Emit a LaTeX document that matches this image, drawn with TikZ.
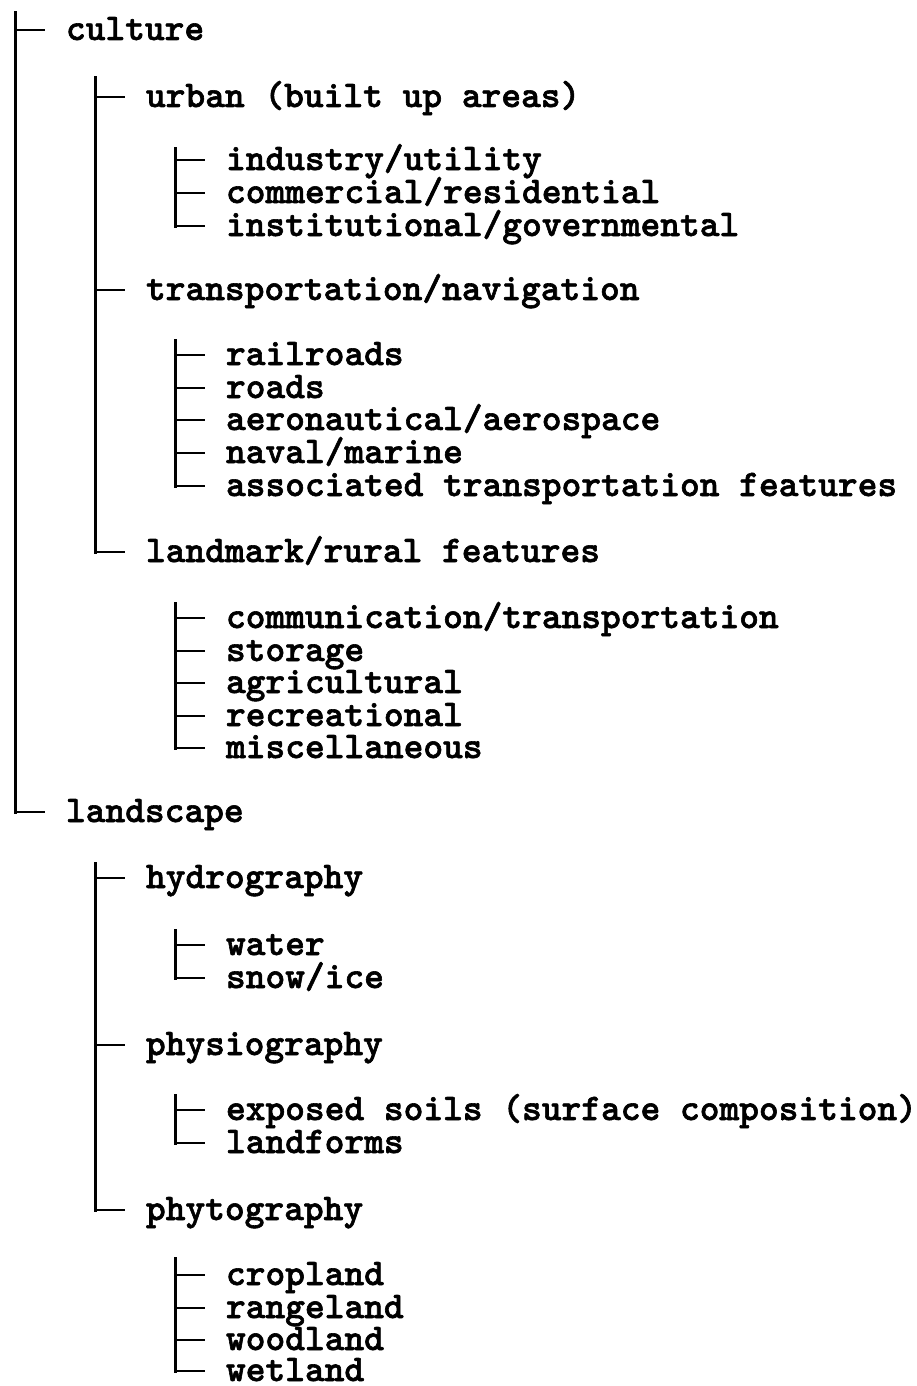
\documentclass[tikz,border=0pt]{standalone}
\usepackage{fontspec}
\usetikzlibrary{calc}

% heavy typewriter face for the labels
\newfontfamily\treefont{lmmonolt10-bold.otf}[FakeBold=1.6]

% Outline tree of feature classes: typewriter labels on a character grid,
% joined by vertical trunks and short horizontal twigs.
\tikzset{
  lbl/.style={inner sep=0pt, outer sep=0pt, anchor=base west,
              font=\fontsize{37.6}{40}\treefont},
  trunk/.style={line width=3pt, line cap=rect},
  twig/.style={line width=2.4pt},
}
% twig from the trunk to a label
\newcommand\twigto[1]{%
  \draw[twig] ([xshift=-51pt,yshift=10pt]#1.base west) -- ([xshift=-21pt,yshift=10pt]#1.base west);}
% trunk from above the first label down to the last one (#3 = overhang above the first twig)
\newcommand\trunkfor[3]{%
  \draw[trunk] ([xshift=-51pt,yshift=#3]#1.base west) -- ([xshift=-51pt,yshift=10pt]#2.base west);}

\begin{document}
\begin{tikzpicture}[x=1pt,y=-1pt]
\useasboundingbox (0,0) rectangle (916,1386);

% level 1
\node[lbl] (culture)   at (66,40)  {culture};
\node[lbl] (landscape) at (66,822) {landscape};

% level 2: culture
\node[lbl] (urban)     at (146,107) {urban (built up areas)};
\node[lbl] (transp)    at (146,300) {transportation/navigation};
\node[lbl] (landmark)  at (146,562) {landmark/rural features};

% level 3: urban
\node[lbl] (industry)  at (226,170) {industry/utility};
\node[lbl] (commerc)   at (226,203) {commercial/residential};
\node[lbl] (instit)    at (226,236) {institutional/governmental};

% level 3: transportation
\node[lbl] (rail)      at (226,365) {railroads};
\node[lbl] (roads)     at (226,398) {roads};
\node[lbl] (aero)      at (226,430) {aeronautical/aerospace};
\node[lbl] (naval)     at (226,463) {naval/marine};
\node[lbl] (assoc)     at (226,496) {associated transportation features};

% level 3: landmark
\node[lbl] (comm)      at (226,628) {communication/transportation};
\node[lbl] (storage)   at (226,661) {storage};
\node[lbl] (agri)      at (226,693) {agricultural};
\node[lbl] (recr)      at (226,726) {recreational};
\node[lbl] (misc)      at (226,758) {miscellaneous};

% level 2: landscape
\node[lbl] (hydro)     at (146,888)  {hydrography};
\node[lbl] (physio)    at (146,1055) {physiography};
\node[lbl] (phyto)     at (146,1220) {phytography};

% level 3: hydrography
\node[lbl] (water)     at (226,955) {water};
\node[lbl] (snow)      at (226,988) {snow/ice};

% level 3: physiography
\node[lbl] (soils)     at (226,1120) {exposed soils (surface composition)};
\node[lbl] (landforms) at (226,1153) {landforms};

% level 3: phytography
\node[lbl] (crop)      at (226,1285) {cropland};
\node[lbl] (range)     at (226,1318) {rangeland};
\node[lbl] (wood)      at (226,1350) {woodland};
\node[lbl] (wet)       at (226,1381) {wetland};

% trunks
\trunkfor{culture}{landscape}{27pt}
\trunkfor{urban}{landmark}{29pt}
\trunkfor{industry}{instit}{22pt}
\trunkfor{rail}{assoc}{25pt}
\trunkfor{comm}{misc}{25pt}
\trunkfor{hydro}{phyto}{25pt}
\trunkfor{water}{snow}{25pt}
\trunkfor{soils}{landforms}{25pt}
\trunkfor{crop}{wet}{27pt}

% twigs
\foreach \n in {culture,landscape,urban,transp,landmark,
                industry,commerc,instit,rail,roads,aero,naval,assoc,
                comm,storage,agri,recr,misc,hydro,physio,phyto,
                water,snow,soils,landforms,crop,range,wood,wet}
  {\twigto{\n}}
\end{tikzpicture}
\end{document}
